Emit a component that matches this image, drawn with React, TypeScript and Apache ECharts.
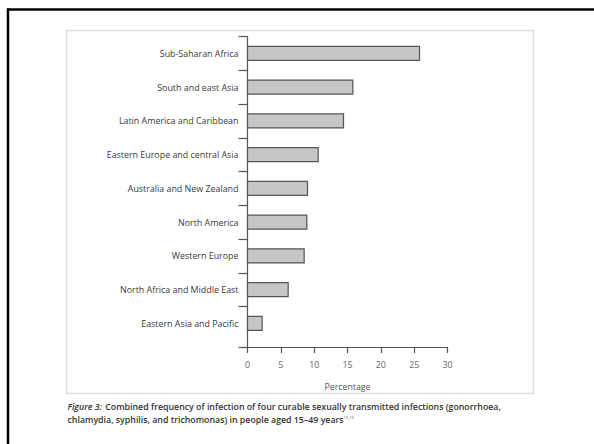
import React, { useEffect, useRef } from "react";
import * as echarts from "echarts";

const categories = [
  "Sub-Saharan Africa",
  "South and east Asia",
  "Latin America and Caribbean",
  "Eastern Europe and central Asia",
  "Australia and New Zealand",
  "North America",
  "Western Europe",
  "North Africa and Middle East",
  "Eastern Asia and Pacific",
];
const percentages = [25.8, 15.8, 14.4, 10.6, 9.0, 8.9, 8.5, 6.1, 2.2];
const xTicks = [0, 5, 10, 15, 20, 25, 30];
const xAxisName = "Percentage";
const captionLine1 =
  "Combined frequency of infection of four curable sexually transmitted infections (gonorrhoea,";
const captionLine2 = "chlamydia, syphilis, and trichomonas) in people aged 15–49 years";
const captionRef = "15,16";

const FONT = "'Open Sans', 'Noto Sans', sans-serif";

export default function App() {
  const ref = useRef<HTMLDivElement>(null);
  useEffect(() => {
    if (!ref.current) return;
    const chart = echarts.init(ref.current, undefined, { renderer: "svg" });
    const n = categories.length;
    const tickVals: number[] = [];
    for (let i = 0; i < n; i++) tickVals.push(i - 0.5);
    tickVals.push(n - 1 + 0.7);
    const option: any = {
      animation: false,
      backgroundColor: "#ffffff",
      grid: { left: 247.5, right: 146.5, top: 36.5, bottom: 97, containLabel: false },
      xAxis: {
        type: "value",
        min: xTicks[0],
        max: xTicks[xTicks.length - 1],
        interval: 5,
        name: xAxisName,
        nameLocation: "middle",
        nameGap: 35,
        nameTextStyle: { fontFamily: FONT, fontSize: 8.8, color: "#555" },
        axisLine: { show: true, onZero: false, lineStyle: { color: "#555", width: 1.2 } },
        axisTick: { show: true, length: 6, lineStyle: { color: "#555", width: 1.2 } },
        axisLabel: { fontFamily: FONT, fontSize: 8.8, color: "#666", margin: 13 },
        splitLine: { show: false },
      },
      yAxis: {
        type: "value",
        inverse: true,
        min: -0.5,
        max: n - 1 + 0.7,
        axisLine: { show: true, onZero: false, lineStyle: { color: "#555", width: 1.2 } },
        axisTick: {
          show: true,
          length: 9,
          customValues: tickVals,
          lineStyle: { color: "#555", width: 1.2 },
        },
        axisLabel: {
          customValues: categories.map((_, i) => i),
          formatter: (v: number) => categories[Math.round(v)] ?? "",
          fontFamily: FONT,
          fontSize: 8.9,
          color: "#3a3a3a",
          margin: 9,
        },
        splitLine: { show: false },
      },
      series: [
        {
          type: "custom",
          data: percentages.map((v, i) => [v, i]),
          encode: { x: 0, y: 1 },
          renderItem: (params: any, api: any) => {
            const v = api.value(0);
            const idx = api.value(1);
            const s = api.coord([0, idx]);
            const e = api.coord([v, idx]);
            const h = api.size([0, 1])[1] * 0.42;
            return {
              type: "rect",
              shape: { x: s[0], y: s[1] - h / 2, width: e[0] - s[0], height: h },
              style: { fill: "#c6c6c6", stroke: "#555", lineWidth: 1.2 },
            };
          },
        },
      ],
      graphic: [
        {
          type: "rect",
          silent: true,
          z: -1,
          shape: { x: 66.5, y: 30.5, width: 467, height: 363 },
          style: { fill: "none", stroke: "#dddddd", lineWidth: 1.5 },
        },
        {
          type: "line",
          silent: true,
          shape: { x1: 8, y1: 8.5, x2: 8, y2: 444 },
          style: { stroke: "#000", lineWidth: 2.5 },
        },
        {
          type: "line",
          silent: true,
          shape: { x1: 7, y1: 9.5, x2: 594, y2: 9.5 },
          style: { stroke: "#000", lineWidth: 2.5 },
        },
        {
          type: "text",
          silent: true,
          x: 67.5,
          y: 401,
          style: {
            text: "{i|Figure 3:} {b|" + captionLine1 + "}",
            rich: {
              i: { fontFamily: FONT, fontSize: 8.8, fontStyle: "italic", fontWeight: 600, fill: "#333" },
              b: { fontFamily: FONT, fontSize: 8.8, fontWeight: 600, fill: "#333" },
            },
          },
        },
        {
          type: "text",
          silent: true,
          x: 67.5,
          y: 415,
          style: {
            text: "{b|" + captionLine2 + "}{s|" + captionRef + "}",
            rich: {
              b: { fontFamily: FONT, fontSize: 8.8, fontWeight: 600, fill: "#333" },
              s: { fontFamily: FONT, fontSize: 4, fill: "#555", verticalAlign: "top", padding: [0, 0, 6, 0] },
            },
          },
        },
      ],
    };
    chart.setOption(option);
    return () => chart.dispose();
  }, []);
  return (
    <div
      ref={ref}
      style={{ position: "fixed", left: 0, top: 0, width: 594, height: 444 }}
    />
  );
}
